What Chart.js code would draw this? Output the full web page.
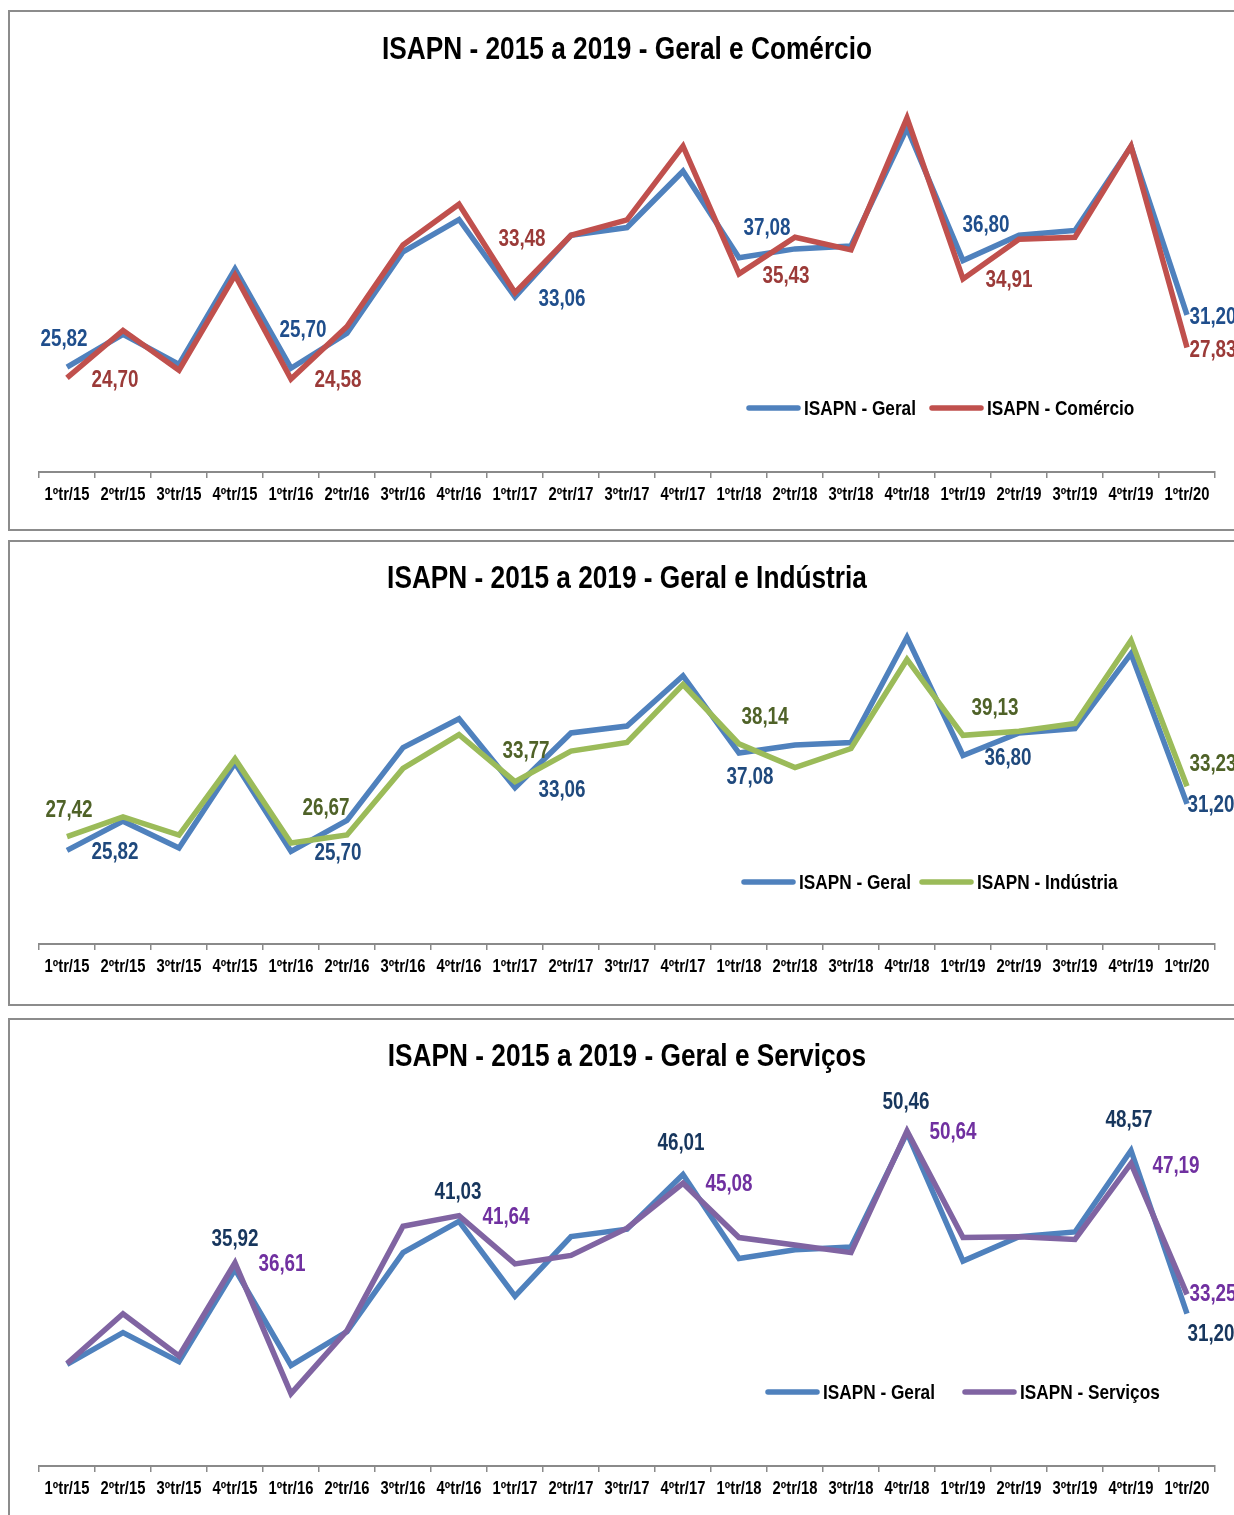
<!DOCTYPE html>
<html lang="pt">
<head>
<meta charset="utf-8">
<title>ISAPN - 2015 a 2019</title>
<script src="https://cdn.jsdelivr.net/npm/chart.js@4.4.1/dist/chart.umd.min.js"></script>
<style>
  html, body { margin: 0; padding: 0; background: #fff; }
  body { width: 1234px; height: 1515px; position: relative; overflow: hidden; }
  .painel { position: absolute; left: 8px; width: 1250px; border: 2px solid #8c8c8c; box-sizing: border-box; }
  canvas { position: absolute; left: 0; }
</style>
</head>
<body>
<div class="painel" style="top:10px;height:521px"></div>
<div class="painel" style="top:540px;height:466px"></div>
<div class="painel" style="top:1018px;height:520px"></div>
<canvas id="gComercio" width="1234" height="520" style="top:10px"></canvas>
<canvas id="gIndustria" width="1234" height="465" style="top:540px"></canvas>
<canvas id="gServicos" width="1234" height="497" style="top:1018px"></canvas>
<script>
// ISAPN trimestral, 1ºtr/15 a 1ºtr/20
var trimestres = ['1ºtr/15', '2ºtr/15', '3ºtr/15', '4ºtr/15', '1ºtr/16', '2ºtr/16', '3ºtr/16',
  '4ºtr/16', '1ºtr/17', '2ºtr/17', '3ºtr/17', '4ºtr/17', '1ºtr/18', '2ºtr/18', '3ºtr/18',
  '4ºtr/18', '1ºtr/19', '2ºtr/19', '3ºtr/19', '4ºtr/19', '1ºtr/20'];

var geral     = [25.82, 29.2, 26.1, 35.92, 25.70, 29.3, 37.7, 41.03, 33.06, 39.4, 40.2,
  46.01, 37.08, 38.0, 38.3, 50.46, 36.80, 39.4, 39.9, 48.57, 31.20];
var comercio  = [24.70, 29.6, 25.5, 35.3, 24.58, 30.0, 38.4, 42.6, 33.48, 39.4, 41.0,
  48.6, 35.43, 39.2, 37.9, 51.5, 34.91, 39.0, 39.2, 48.6, 27.83];
var industria = [27.42, 29.7, 27.6, 36.4, 26.67, 27.6, 35.3, 39.2, 33.77, 37.3, 38.3,
  45.0, 38.14, 35.4, 37.6, 47.9, 39.13, 39.6, 40.5, 50.1, 33.23];
var servicos  = [25.9, 31.2, 26.7, 36.61, 22.7, 29.4, 40.5, 41.64, 36.5, 37.4, 40.3,
  45.08, 39.3, 38.5, 37.7, 50.64, 39.3, 39.4, 39.1, 47.19, 33.25];

var FONTE = "'Liberation Sans', Arial, sans-serif";
var ESTREITO = 0.82;   // compressão horizontal (aspecto de fonte "narrow")

var cores = {
  geral: '#4f81bd',
  comercio: '#c0504d',
  industria: '#9bbb59',
  servicos: '#8064a2'
};

function fmt(v) {
  return v.toFixed(2).replace('.', ',');
}

function textoEstreito(ctx, txt, x, y, align) {
  ctx.save();
  ctx.translate(x, y);
  ctx.scale(ESTREITO, 1);
  ctx.textAlign = align;
  ctx.fillText(txt, 0, 0);
  ctx.restore();
}

// título centrado sobre a área do gráfico
var tituloEstreito = {
  id: 'tituloEstreito',
  afterDraw: function(chart, args, opts) {
    var ctx = chart.ctx, a = chart.chartArea;
    ctx.save();
    ctx.font = 'bold 32px ' + FONTE;
    ctx.fillStyle = '#000';
    ctx.textBaseline = 'middle';
    textoEstreito(ctx, opts.text, (a.left + a.right) / 2, opts.y, 'center');
    ctx.restore();
  }
};

// rótulos do eixo x em fonte estreita, nas posições dos ticks da escala
var ticksEstreitos = {
  id: 'ticksEstreitos',
  afterDraw: function(chart, args, opts) {
    var ctx = chart.ctx, sx = chart.scales.x;
    ctx.save();
    ctx.font = 'bold 18px ' + FONTE;
    ctx.fillStyle = '#000';
    ctx.textBaseline = 'middle';
    sx.ticks.forEach(function(t, i) {
      textoEstreito(ctx, sx.getLabelForValue(t.value), sx.getPixelForTick(i), sx.top + opts.dy, 'center');
    });
    ctx.restore();
  }
};

// rótulos de valor: cada dataset traz a lista {i, dx, dy} dos pontos rotulados
var rotulosValores = {
  id: 'rotulosValores',
  afterDatasetsDraw: function(chart) {
    var ctx = chart.ctx;
    ctx.save();
    ctx.font = 'bold 23px ' + FONTE;
    ctx.textBaseline = 'middle';
    chart.data.datasets.forEach(function(ds, k) {
      var meta = chart.getDatasetMeta(k);
      (ds.rotulos || []).forEach(function(r) {
        var pt = meta.data[r.i];
        ctx.fillStyle = ds.corRotulo;
        textoEstreito(ctx, fmt(ds.data[r.i]), pt.x + r.dx, pt.y + r.dy + 1, 'center');
      });
    });
    ctx.restore();
  }
};

// legenda desenhada dentro da área do gráfico
var legendaLinhas = {
  id: 'legendaLinhas',
  afterDraw: function(chart, args, opts) {
    var ctx = chart.ctx;
    ctx.save();
    ctx.font = 'bold 21px ' + FONTE;
    ctx.textBaseline = 'middle';
    chart.data.datasets.forEach(function(ds, k) {
      var x = opts.x[k], y = opts.y;
      ctx.strokeStyle = ds.borderColor;
      ctx.lineWidth = 5.5;
      ctx.lineCap = 'round';
      ctx.beginPath();
      ctx.moveTo(x + 3, y);
      ctx.lineTo(x + 52, y);
      ctx.stroke();
      ctx.fillStyle = '#000';
      textoEstreito(ctx, ds.label, x + 58, y + 1, 'left');
    });
    ctx.restore();
  }
};

function serie(label, data, cor, corRotulo, rotulos, ordem) {
  return {
    label: label,
    data: data,
    borderColor: cor,
    backgroundColor: cor,
    borderWidth: 5.5,
    pointRadius: 0,
    tension: 0,
    fill: false,
    clip: false,
    order: ordem,
    corRotulo: corRotulo,
    rotulos: rotulos
  };
}

function criaGrafico(id, titulo, series, lay) {
  return new Chart(document.getElementById(id), {
    type: 'line',
    data: { labels: trimestres, datasets: series },
    plugins: [rotulosValores, legendaLinhas, tituloEstreito, ticksEstreitos],
    options: {
      responsive: false,
      animation: false,
      layout: { padding: { left: 39, right: 19, top: lay.topo, bottom: 0 } },
      scales: {
        x: {
          offset: true,
          grid: { offset: true, drawOnChartArea: false, drawTicks: true, tickLength: 6, color: '#8a8a8a', lineWidth: 1.5 },
          border: { display: true, color: '#8a8a8a', width: 2 },
          ticks: { display: false, autoSkip: false, maxRotation: 0 },
          afterFit: function(s) { s.height = lay.eixo; }
        },
        y: { display: false, min: 15, max: 55 }
      },
      plugins: {
        title: { display: false },
        legend: { display: false },
        tooltip: { enabled: false },
        tituloEstreito: { text: titulo, y: lay.tituloY },
        ticksEstreitos: { dy: 23 },
        legendaLinhas: { x: lay.legX, y: lay.legY }
      }
    }
  });
}

criaGrafico('gComercio', 'ISAPN - 2015 a 2019 - Geral e Comércio', [
  serie('ISAPN - Geral', geral, cores.geral, '#1f4e8c', [
    { i: 0, dx: -3, dy: -28 }, { i: 4, dx: 12, dy: -39 }, { i: 8, dx: 47, dy: 2 },
    { i: 12, dx: 28, dy: -30 }, { i: 16, dx: 23, dy: -36 }, { i: 20, dx: 26, dy: 2 }
  ], 1),
  serie('ISAPN - Comércio', comercio, cores.comercio, '#9b3a38', [
    { i: 0, dx: 48, dy: 2 }, { i: 4, dx: 47, dy: 1 }, { i: 8, dx: 7, dy: -54 },
    { i: 12, dx: 47, dy: 2 }, { i: 16, dx: 46, dy: 1 }, { i: 20, dx: 26, dy: 2 }
  ], 0)
], { topo: 74, eixo: 58, tituloY: 40, legX: [746, 929], legY: 398 });

criaGrafico('gIndustria', 'ISAPN - 2015 a 2019 - Geral e Indústria', [
  serie('ISAPN - Geral', geral, cores.geral, '#1f497d', [
    { i: 0, dx: 48, dy: 1 }, { i: 4, dx: 47, dy: 1 }, { i: 8, dx: 47, dy: 2 },
    { i: 12, dx: 11, dy: 24 }, { i: 16, dx: 45, dy: 2 }, { i: 20, dx: 24, dy: 1 }
  ], 1),
  serie('ISAPN - Indústria', industria, cores.industria, '#4f6228', [
    { i: 0, dx: 2, dy: -27 }, { i: 4, dx: 35, dy: -35 }, { i: 8, dx: 11, dy: -31 },
    { i: 12, dx: 26, dy: -27 }, { i: 16, dx: 32, dy: -28 }, { i: 20, dx: 26, dy: -23 }
  ], 0)
], { topo: 58, eixo: 61, tituloY: 39, legX: [741, 919], legY: 342 });

criaGrafico('gServicos', 'ISAPN - 2015 a 2019 - Geral e Serviços', [
  serie('ISAPN - Geral', geral, cores.geral, '#17365d', [
    { i: 3, dx: 0, dy: -31 }, { i: 7, dx: -1, dy: -30 }, { i: 11, dx: -2, dy: -32 },
    { i: 15, dx: -1, dy: -31 }, { i: 19, dx: -2, dy: -31 }, { i: 20, dx: 24, dy: 20 }
  ], 1),
  serie('ISAPN - Serviços', servicos, cores.servicos, '#7030a0', [
    { i: 3, dx: 47, dy: 1 }, { i: 7, dx: 47, dy: 1 }, { i: 11, dx: 46, dy: 0 },
    { i: 15, dx: 46, dy: 1 }, { i: 19, dx: 45, dy: 2 }, { i: 20, dx: 26, dy: -1 }
  ], 0)
], { topo: 72, eixo: 49, tituloY: 39, legX: [765, 962], legY: 374 });
</script>
</body>
</html>
